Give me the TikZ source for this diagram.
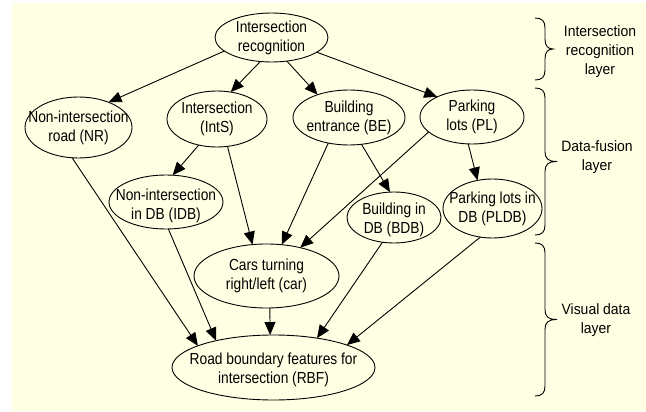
\documentclass[tikz,border=0pt]{standalone}
\usepackage{fontspec}
\setmainfont{Liberation Sans}
\newfontfamily\nodefont[FakeStretch=0.86]{Liberation Sans}
\newfontfamily\lblfont[FakeStretch=0.93]{Liberation Sans}
\usetikzlibrary{arrows.meta,shapes.geometric}
\definecolor{bgyellow}{RGB}{255,255,228}
\begin{document}
\begin{tikzpicture}[x=1pt,y=-1pt,
  box/.style={ellipse, draw, line width=0.9pt, inner sep=0pt, outer sep=0pt},
  txt/.style={font=\nodefont\fontsize{16}{19}\selectfont, align=center, inner sep=0pt},
  lbl/.style={font=\lblfont\fontsize{15}{19}\selectfont, align=center, inner sep=0pt},
  edge/.style={-{Triangle[length=13pt,width=11pt]}, line width=0.9pt},
  bracepath/.style={line width=0.9pt}
]
\useasboundingbox (0,0) rectangle (646,412);
\fill[bgyellow] (12,3) rectangle (646,411);

% nodes
\node[box, minimum width=113pt, minimum height=49pt, label={[txt]center:Intersection\\recognition}] (IR) at (271.5,37.5) {};
\node[box, minimum width=107pt, minimum height=61pt, label={[txt]center:Non-intersection\\road (NR)}] (NR) at (78.5,127.5) {};
\node[box, minimum width=100pt, minimum height=56pt, label={[txt]center:Intersection\\(IntS)}] (IntS) at (217,119) {};
\node[box, minimum width=112pt, minimum height=55pt, label={[txt]center:Building\\entrance (BE)}] (BE) at (349,117.5) {};
\node[box, minimum width=104pt, minimum height=54pt, label={[txt]center:Parking\\lots (PL)}] (PL) at (472,117) {};
\node[box, minimum width=114pt, minimum height=54pt, label={[txt,yshift=-4pt]center:Non-intersection\\in DB (IDB)}] (IDB) at (166,202) {};
\node[box, minimum width=94pt, minimum height=51pt, label={[txt,yshift=-2pt]center:Building in\\DB (BDB)}] (BDB) at (394,217.5) {};
\node[box, minimum width=99pt, minimum height=59pt, label={[txt]center:Parking lots in\\DB (PLDB)}] (PLDB) at (492.5,208.5) {};
\node[box, minimum width=145pt, minimum height=64pt, label={[txt]center:Cars turning\\right/left (car)}] (car) at (266.5,276) {};
\node[box, minimum width=203pt, minimum height=65pt, label={[txt,yshift=-2pt]center:Road boundary features for\\intersection (RBF)}] (RBF) at (273.5,367.5) {};

% edges
\draw[edge] (IR.196) -- (NR.40);
\draw[edge] (IR.245) -- (IntS.63);
\draw[edge] (IR.303) -- (BE.144);
\draw[edge] (IR.342) -- (PL.150);
\draw[edge] (IntS.235) -- (IDB.76);
\draw[edge] (IntS.291) -- (car.114);
\draw[edge] (BE.231) -- (car.64);
\draw[edge] (BE.295) -- (BDB.99);
\draw[edge] (PL.199) -- (car.40);
\draw[edge] (PL.262) -- (PLDB.118);
\draw[edge] (NR.258) -- (RBF.164);
\draw[edge] (IDB.275) -- (RBF.155);
\draw[edge] (car.276) -- (RBF.96);
\draw[edge] (BDB.245) -- (RBF.34);
\draw[edge] (PLDB.247) -- (RBF.17);

% braces
\foreach \ya/\yb/\tipx in {18/80/553, 88/235/557, 243/396/557} {
  \pgfmathsetmacro\ym{(\ya+\yb)/2}
  \draw[bracepath] (535,\ya) .. controls (542,\ya) and (545,\ya+3) .. (545,\ya+10)
    -- (545,\ym-10) .. controls (545,\ym-3) and (548,\ym) .. (\tipx,\ym)
    .. controls (548,\ym) and (545,\ym+3) .. (545,\ym+10)
    -- (545,\yb-10) .. controls (545,\yb-3) and (542,\yb) .. (535,\yb);
}

% layer labels
\node[lbl] (L1) at (600,52) {Intersection\\recognition\\layer};
\node[lbl] (L2) at (597,157.5) {Data-fusion\\layer};
\node[lbl] (L3) at (596,320.5) {Visual data\\layer};
\end{tikzpicture}
\end{document}
